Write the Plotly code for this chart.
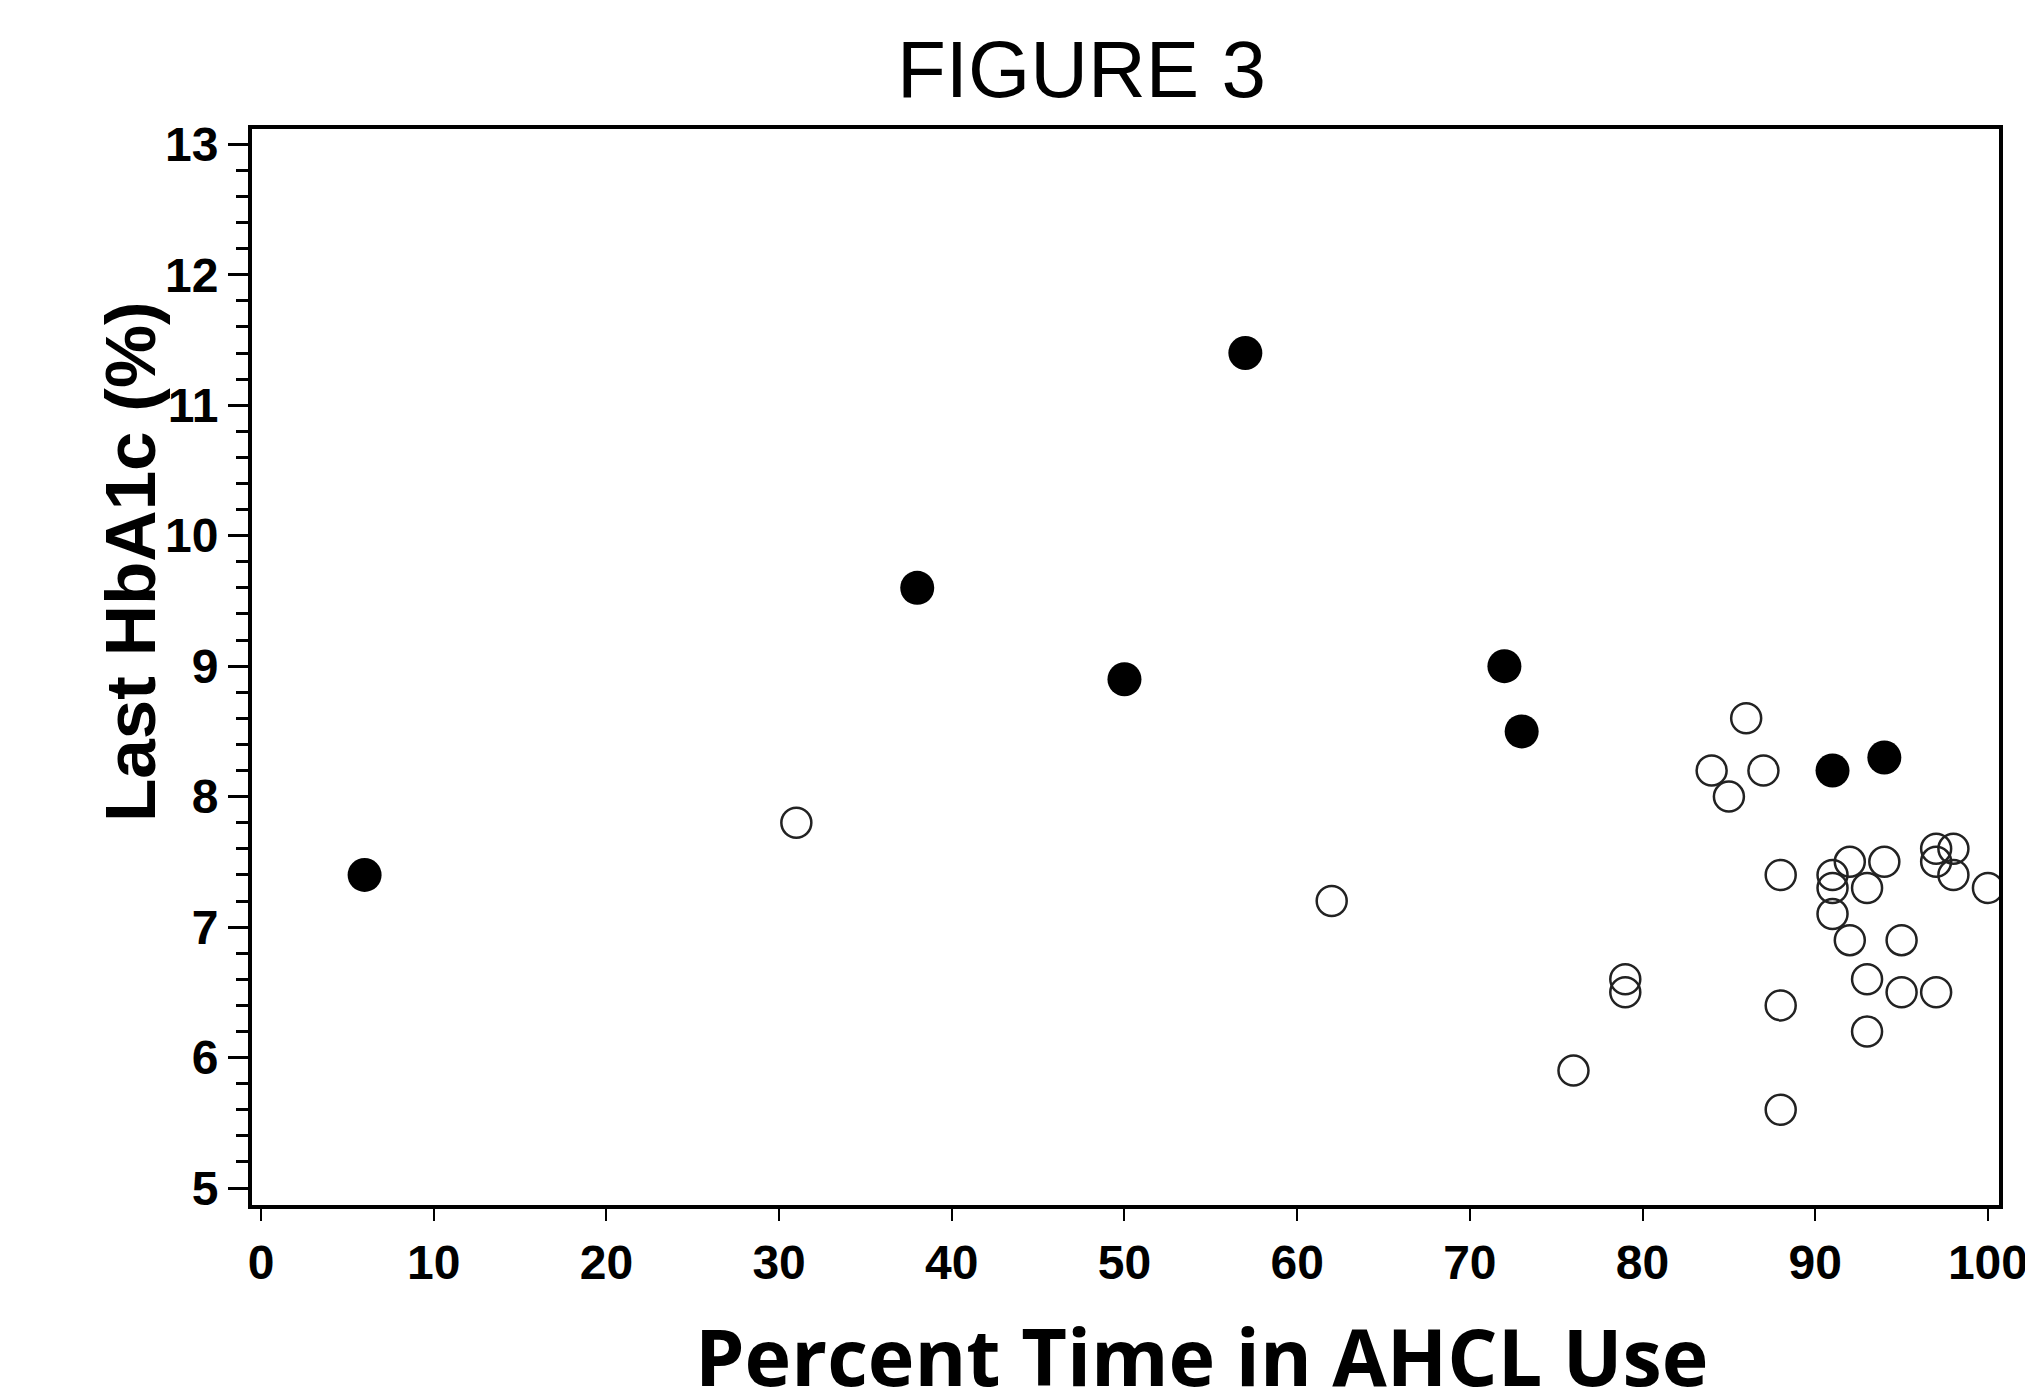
import plotly.graph_objects as go

# Data
filled_x = [6, 38, 50, 57, 72, 73, 91, 94]
filled_y = [7.4, 9.6, 8.9, 11.4, 9.0, 8.5, 8.2, 8.3]

open_x = [31, 62, 76, 79, 79, 84, 85, 86, 87, 88, 88, 88, 91, 91, 91,
          92, 92, 93, 93, 93, 94, 95, 95, 97, 97, 97, 98, 98, 100]
open_y = [7.8, 7.2, 5.9, 6.6, 6.5, 8.2, 8.0, 8.6, 8.2, 7.4, 6.4, 5.6, 7.4, 7.3, 7.1,
          7.5, 6.9, 7.3, 6.6, 6.2, 7.5, 6.9, 6.5, 7.6, 7.5, 6.5, 7.6, 7.4, 7.3]

x_ticks = [0, 10, 20, 30, 40, 50, 60, 70, 80, 90, 100]
y_ticks = [5, 6, 7, 8, 9, 10, 11, 12, 13]

title_text = "FIGURE 3"
x_title = "Percent Time in AHCL Use"
y_title = "Last HbA1c (%)"

fig = go.Figure()
fig.add_trace(go.Scatter(
    x=open_x, y=open_y, mode="markers",
    marker=dict(symbol="circle-open", size=30, color="#222222",
                line=dict(width=2.5, color="#222222")),
    showlegend=False, hoverinfo="x+y"))
fig.add_trace(go.Scatter(
    x=filled_x, y=filled_y, mode="markers",
    marker=dict(symbol="circle", size=34, color="black",
                line=dict(width=0)),
    showlegend=False, hoverinfo="x+y"))

# page body has an 8px default margin on every side; keep the page within the window
OFF = 8
PAGE_W, PAGE_H = 2033, 1396
W, H = PAGE_W - OFF, PAGE_H - 2 * OFF
# plot area in page pixels
P_LEFT, P_RIGHT, P_TOP, P_BOTTOM = 252, 1999, 129, 1205
L = P_LEFT - OFF
R = W - (P_RIGHT - OFF)
T = P_TOP - OFF
B = H - (P_BOTTOM - OFF)

fig.update_layout(
    width=W, height=H, autosize=False,
    margin=dict(l=L, r=R, t=T, b=B, pad=0, autoexpand=False),
    plot_bgcolor="white", paper_bgcolor="white",
    showlegend=False,
)

fig.update_xaxes(
    range=[-0.52, 100.64], tickmode="array", tickvals=x_ticks,
    ticktext=[str(v) for v in x_ticks], automargin=False,
    ticks="outside", ticklen=12, tickwidth=2, tickcolor="black",
    ticklabeloverflow="allow",
    showline=True, linewidth=4, linecolor="black", mirror=True,
    showgrid=False, zeroline=False,
    tickfont=dict(family="Liberation Sans", size=48, color="black", weight="bold"),
)
fig.update_yaxes(
    range=[4.87, 13.117], tickmode="array", tickvals=y_ticks,
    ticktext=[str(v) for v in y_ticks], automargin=False,
    ticks="outside", ticklen=20, tickwidth=3, tickcolor="black",
    ticklabeloverflow="allow",
    minor=dict(tick0=5, dtick=0.2, ticks="outside", ticklen=12, tickwidth=3,
               tickcolor="black", showgrid=False),
    showline=True, linewidth=4, linecolor="black", mirror=True,
    showgrid=False, zeroline=False,
    tickfont=dict(family="Liberation Sans", size=48, color="black", weight="bold"),
)

pw = P_RIGHT - P_LEFT
ph = P_BOTTOM - P_TOP

def px_x(p):
    return (p - P_LEFT) / pw

def px_y(p):
    return (P_BOTTOM - p) / ph

fig.add_annotation(
    text=title_text, xref="paper", yref="paper",
    x=px_x(1081), y=px_y(70), xanchor="center", yanchor="middle",
    showarrow=False,
    font=dict(family="Liberation Sans", size=80, color="black"))
fig.add_annotation(
    text=x_title, xref="paper", yref="paper",
    x=px_x(1201), y=px_y(1355), xanchor="center", yanchor="middle",
    showarrow=False,
    font=dict(family="Open Sans", size=79, color="black", weight="bold"))
fig.add_annotation(
    text=y_title, xref="paper", yref="paper",
    x=px_x(130), y=px_y(562), xanchor="center", yanchor="middle",
    textangle=-90, showarrow=False,
    font=dict(family="Liberation Sans", size=71, color="black", weight="bold"))

fig.write_html("out.html")
